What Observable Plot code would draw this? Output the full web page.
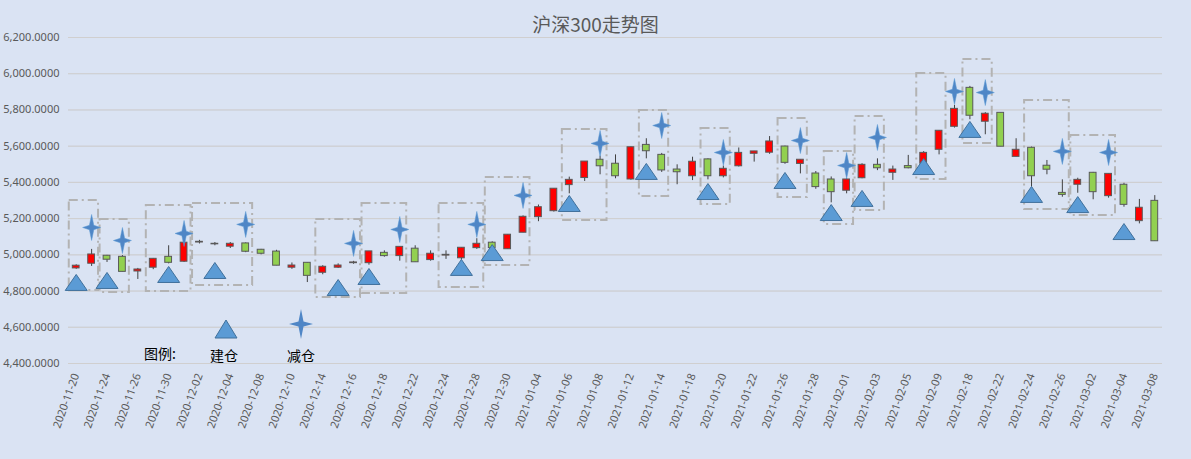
<!DOCTYPE html>
<html><head><meta charset="utf-8">
<script src="https://cdn.jsdelivr.net/npm/d3@7"></script>
<script src="https://cdn.jsdelivr.net/npm/@observablehq/plot@0.6"></script>
<style>
body{margin:0;background:#dae3f3;font-family:"Noto Sans CJK SC","Noto Sans",sans-serif;}
#wrap{position:relative;width:1191px;height:459px;background:#dae3f3;overflow:hidden}
#title{position:absolute;left:0;width:1191px;top:10px;text-align:center;font-size:19px;color:#595959}
.lg{position:absolute;font-size:14px;color:#000}
</style></head><body>
<div id="wrap"><div id="title">沪深300走势图</div></div>
<script>
const dates=["2020-11-20","2020-11-23","2020-11-24","2020-11-25","2020-11-26","2020-11-27","2020-11-30","2020-12-01","2020-12-02","2020-12-03","2020-12-04","2020-12-07","2020-12-08","2020-12-09","2020-12-10","2020-12-11","2020-12-14","2020-12-15","2020-12-16","2020-12-17","2020-12-18","2020-12-21","2020-12-22","2020-12-23","2020-12-24","2020-12-25","2020-12-28","2020-12-29","2020-12-30","2020-12-31","2021-01-04","2021-01-05","2021-01-06","2021-01-07","2021-01-08","2021-01-11","2021-01-12","2021-01-13","2021-01-14","2021-01-15","2021-01-18","2021-01-19","2021-01-20","2021-01-21","2021-01-22","2021-01-25","2021-01-26","2021-01-27","2021-01-28","2021-01-29","2021-02-01","2021-02-02","2021-02-03","2021-02-04","2021-02-05","2021-02-08","2021-02-09","2021-02-10","2021-02-18","2021-02-19","2021-02-22","2021-02-23","2021-02-24","2021-02-25","2021-02-26","2021-03-01","2021-03-02","2021-03-03","2021-03-04","2021-03-05","2021-03-08"];
const open=[4925,4951,4995,4989,4908,4929,4989,4962,5068,5058,5045,5063,5028,5018,4929,4956,4901,4929,4954,4954,5011,4993,5034,4971,4996,4981,5037,5067,5031,5122,5208,5241,5385,5424,5525,5503,5416,5607,5552,5471,5434,5527,5434,5489,5558,5564,5598,5502,5449,5416,5354,5423,5497,5453,5490,5503,5580,5707,5922,5735,5784,5541,5591,5492,5342,5387,5453,5324,5387,5186,5298];
const close=[4940,5002,4973,4906,4919,4978,4956,5067,5072,5060,5061,5017,5006,4940,4941,4884,4934,4941,4958,5019,4993,5044,4959,5006,5000,5039,5061,5037,5111,5210,5263,5365,5414,5515,5489,5434,5594,5572,5466,5456,5514,5434,5475,5563,5571,5626,5508,5525,5374,5346,5416,5497,5478,5471,5478,5563,5685,5806,5768,5779,5597,5580,5434,5470,5331,5414,5346,5447,5276,5260,5075];
const high=[4945,5030,4997,4996,4925,4980,5050,5072,5080,5068,5068,5066,5030,5025,4955,4956,4940,4950,4964,5019,5022,5044,5050,5022,5022,5039,5089,5072,5111,5215,5275,5365,5429,5515,5545,5552,5595,5641,5560,5497,5539,5530,5490,5590,5571,5653,5600,5525,5460,5430,5420,5503,5530,5490,5549,5570,5685,5825,5930,5785,5784,5641,5595,5521,5414,5423,5455,5447,5395,5306,5327];
const low=[4920,4936,4958,4906,4864,4918,4950,4958,5060,5050,5035,5012,5000,4940,4920,4847,4890,4925,4948,4943,4987,4965,4959,4965,4975,4970,5030,5030,5031,5122,5183,5236,5337,5405,5442,5420,5412,5530,5455,5387,5410,5414,5425,5485,5512,5555,5500,5447,5362,5287,5337,5420,5465,5411,5475,5480,5552,5700,5746,5663,5597,5541,5374,5442,5318,5340,5304,5313,5263,5171,5075];
// 建仓 markers
const buyDates=["2020-11-20","2020-11-24","2020-11-30","2020-12-03","2020-12-15","2020-12-17","2020-12-25","2020-12-29","2021-01-06","2021-01-13","2021-01-19","2021-01-26","2021-01-29","2021-02-02","2021-02-08","2021-02-18","2021-02-24","2021-03-01","2021-03-04"];
const buyValues=[4842,4853,4886,4908,4814,4875,4925,5007,5278,5455,5344,5405,5228,5306,5482,5687,5328,5272,5123];
// 减仓 markers
const sellDates=["2020-11-23","2020-11-25","2020-12-01","2020-12-07","2020-12-16","2020-12-21","2020-12-28","2020-12-31","2021-01-08","2021-01-14","2021-01-20","2021-01-27","2021-02-01","2021-02-03","2021-02-10","2021-02-19","2021-02-26","2021-03-03"];
const sellValues=[5151,5079,5118,5168,5063,5140,5168,5328,5615,5714,5565,5631,5493,5648,5902,5896,5571,5565];
// dashed boxes
const boxStart=["2020-11-20","2020-11-24","2020-11-27","2020-12-02","2020-12-14","2020-12-17","2020-12-24","2020-12-29","2021-01-06","2021-01-13","2021-01-19","2021-01-26","2021-01-29","2021-02-02","2021-02-08","2021-02-18","2021-02-24","2021-03-01"];
const boxEnd=["2020-11-23","2020-11-25","2020-12-01","2020-12-07","2020-12-16","2020-12-21","2020-12-28","2020-12-31","2021-01-08","2021-01-14","2021-01-20","2021-01-27","2021-02-01","2021-02-03","2021-02-09","2021-02-19","2021-02-26","2021-03-03"];
const boxTop=[5300,5195,5272,5283,5195,5283,5283,5427,5692,5797,5698,5753,5570,5764,6001,6079,5852,5659];
const boxBottom=[4803,4792,4798,4831,4764,4786,4820,4941,5190,5322,5278,5317,5168,5245,5416,5615,5250,5217];
const yTicks=d3.range(4400,6201,200);

const idx=d=>dates.indexOf(d);
const candles=dates.map((d,i)=>({i,o:open[i],c:close[i],h:high[i],l:low[i]}));
const buys=buyDates.map((d,k)=>({i:idx(d),v:buyValues[k]}));
const sells=sellDates.map((d,k)=>({i:idx(d),v:sellValues[k]}));
const boxes=boxStart.map((d,k)=>({a:idx(d)-0.45,b:idx(boxEnd[k])+0.45,t:boxTop[k],u:boxBottom[k]}));
const tri={draw(ctx){ctx.moveTo(0,-9);ctx.lineTo(11,7);ctx.lineTo(-11,7);ctx.closePath();}};
const star={draw(ctx){const a=13,b=9,c=2.2;ctx.moveTo(0,-a);ctx.lineTo(c,-c);ctx.lineTo(b,0);ctx.lineTo(c,c);ctx.lineTo(0,a);ctx.lineTo(-c,c);ctx.lineTo(-b,0);ctx.lineTo(-c,-c);ctx.closePath();}};
const fmt=d3.format(",.4f");
const chart=Plot.plot({
  width:1191,height:459,marginTop:37,marginBottom:96,marginLeft:68,marginRight:29,
  style:{background:"transparent",fontFamily:"'Noto Sans','DejaVu Sans',sans-serif",fontSize:"11px",color:"#595959"},
  x:{domain:[-0.5,dates.length-0.5],ticks:d3.range(0,dates.length,2),tickFormat:i=>dates[i],tickRotate:-70,tickSize:0,label:null},
  y:{domain:[4400,6200],ticks:yTicks,tickFormat:fmt,tickSize:0,label:null,grid:true},
  marks:[
    Plot.gridY(yTicks,{stroke:"#d0cfcf",strokeOpacity:1}),
    Plot.rect(boxes,{x1:"a",x2:"b",y1:"u",y2:"t",fill:"none",stroke:"#b3b3b3",strokeWidth:2,strokeDasharray:"9,4,2,4"}),
    Plot.ruleX(candles,{x:"i",y1:"l",y2:"h",stroke:"#404040",strokeWidth:1}),
    Plot.rect(candles,{x1:d=>d.i-0.22,x2:d=>d.i+0.22,y1:"o",y2:d=>Math.abs(d.c-d.o)<3?d.o+(d.c>=d.o?3:-3):d.c,fill:d=>d.c>=d.o?"#ff0000":"#92d050",stroke:"#595959",strokeWidth:1}),
    Plot.dot(buys,{x:"i",y:"v",symbol:tri,fill:"#5b9bd5",stroke:"#41719c",strokeWidth:1}),
    Plot.dot(sells,{x:"i",y:"v",symbol:star,fill:"#4f86c6",stroke:"#5b9bd5",strokeWidth:0.5})
  ]
});
const wrap=document.getElementById("wrap");
chart.style.position="absolute";chart.style.left="0";chart.style.top="0";
wrap.appendChild(chart);
wrap.insertAdjacentHTML("beforeend",
 '<div class="lg" style="left:144px;top:343px">图例:</div>'+
 '<svg style="position:absolute;left:213px;top:318px" width="26" height="22"><path d="M13,2L24,20L2,20Z" fill="#5b9bd5" stroke="#41719c"/></svg>'+
 '<div class="lg" style="left:210px;top:345px">建仓</div>'+
 '<svg style="position:absolute;left:288px;top:308px" width="26" height="32"><path d="M13,1L15.5,13.5L25,16L15.5,18.5L13,31L10.5,18.5L1,16L10.5,13.5Z" fill="#4f86c6"/></svg>'+
 '<div class="lg" style="left:287px;top:345px">减仓</div>');
</script></body></html>
